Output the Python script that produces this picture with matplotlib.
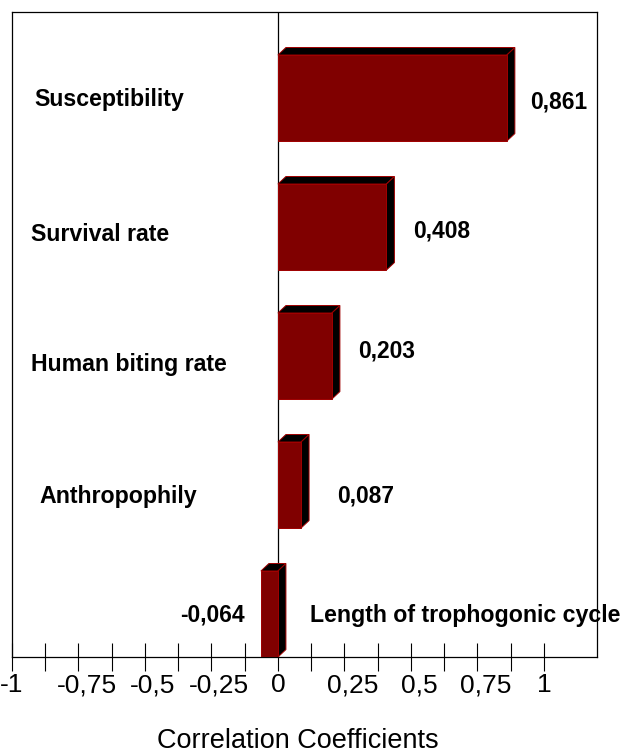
# Correlation coefficients chart (3D-style horizontal bars)
import numpy as np
import matplotlib.pyplot as plt
from matplotlib.patches import Polygon
import matplotlib.transforms as mtransforms

plt.rcParams['font.family'] = ['Liberation Sans', 'DejaVu Sans']

# ----------------------------
# Data (bottom -> top)
# ----------------------------
factores = ["Length of trophogonic cycle", "Anthropophily", "Human biting rate",
            "Survival rate", "Susceptibility"]
coeficientes = [-0.064, 0.087, 0.203, 0.408, 0.861]
etiquetas_valor = ["-0,064", "0,087", "0,203", "0,408", "0,861"]
ticks_valores = [-1, -0.75, -0.5, -0.25, 0, 0.25, 0.5, 0.75, 1]
ticks_texto = ["-1", "-0,75", "-0,5", "-0,25", "0", "0,25", "0,5", "0,75", "1"]
ticks_menores = [-0.875, -0.625, -0.375, -0.125, 0.125, 0.375, 0.625, 0.875]

# layout (pixels / data x for names)
nombre_x = [0.12, -0.896, -0.927, -0.927, -0.915]
nombre_dy = [-1.5, 9, 5.5, 5, -1.3]
valor_dx = [-16, 36, 26, 27, 23]
valor_dy = [-1.5, 8.7, -8, 1.5, 1]

frente = "#800000"
borde = "#a00000"

fig = plt.figure(figsize=(6.22, 7.55), dpi=100)
ax = fig.add_axes([12 / 622, 1 - 657 / 755, 585 / 622, 645 / 755])

pos = np.arange(len(factores))
alto = 0.667
ax.set_xlim(-1, 1.2)
ax.set_ylim(-0.333, 4.667)

# zero line
ax.axvline(0, color="black", linewidth=0.9, zorder=1)

barras = ax.barh(pos, coeficientes, height=alto, color=frente,
                 edgecolor=borde, linewidth=0.7, zorder=3)

# depth of the 3D effect, in data units (~8 px)
dx = 8 / 265.5
dy = 7.5 / 129.0
for r in barras:
    x0 = min(r.get_x(), r.get_x() + r.get_width())
    x1 = max(r.get_x(), r.get_x() + r.get_width())
    y0 = r.get_y()
    y1 = r.get_y() + r.get_height()
    tapa = Polygon([(x0, y1), (x1, y1), (x1 + dx, y1 + dy), (x0 + dx, y1 + dy)],
                   closed=True, facecolor="black", edgecolor=borde,
                   linewidth=0.7, zorder=2)
    lado = Polygon([(x1, y0), (x1 + dx, y0 + dy), (x1 + dx, y1 + dy), (x1, y1)],
                   closed=True, facecolor="black", edgecolor=borde,
                   linewidth=0.7, zorder=2)
    ax.add_patch(tapa)
    ax.add_patch(lado)

# category names
for i, nombre in enumerate(factores):
    ax.annotate(nombre, (nombre_x[i], pos[i]), xytext=(0, -nombre_dy[i]),
                textcoords="offset pixels", ha="left", va="center_baseline",
                fontsize=16.7, fontweight="bold", annotation_clip=False,
                clip_on=False)

# value labels
for i, v in enumerate(coeficientes):
    ha = "left" if v >= 0 else "right"
    ax.annotate(etiquetas_valor[i], (v, pos[i]), xytext=(valor_dx[i], -valor_dy[i]),
                textcoords="offset pixels", ha=ha, va="center_baseline",
                fontsize=16.4, fontweight="bold")

# axes styling
ax.set_xticks(ticks_valores)
ax.set_xticklabels(ticks_texto, fontsize=19)
ax.set_xticks(ticks_menores, minor=True)
ax.tick_params(axis="x", which="both", direction="inout", length=19.5,
               width=0.8, color="black", pad=2)
ax.set_yticks([])
for s in ax.spines.values():
    s.set_linewidth(0.9)
    s.set_color("black")

# shift the decimal labels a bit to the right like the original
for lab in ax.get_xticklabels():
    if "," in lab.get_text():
        lab.set_transform(lab.get_transform() +
                          mtransforms.ScaledTranslation(8 / 100, 0, fig.dpi_scale_trans))

fig.text(297.5 / 622, 1.5 / 755, "Correlation Coefficients", ha="center",
         va="bottom", fontsize=19.5)

fig.savefig("out.png", dpi=100)
